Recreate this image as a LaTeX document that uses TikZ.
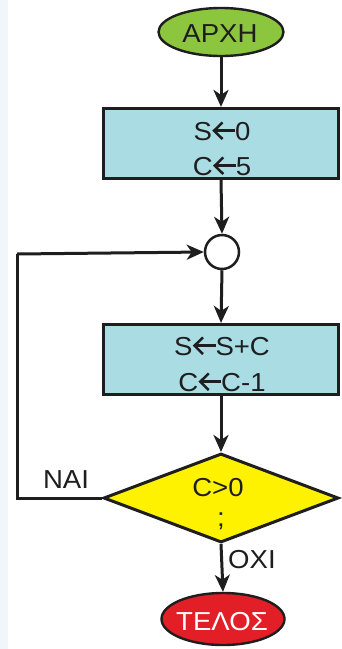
\documentclass[tikz,border=0pt]{standalone}
\usepackage{fontspec}
\setmainfont[FakeStretch=1.06]{Liberation Sans}
\usetikzlibrary{shapes.geometric,arrows.meta}
\definecolor{startgreen}{HTML}{8CC63F}
\definecolor{procblue}{HTML}{A9DCE3}
\definecolor{decyellow}{HTML}{FFF200}
\definecolor{endred}{HTML}{E21F26}
\definecolor{stripbg}{HTML}{F1F6FA}
\definecolor{ink}{HTML}{1E1E1E}
\newcommand{\lar}{\tikz[baseline=0pt,x=1pt,y=1pt]{%
  \path[use as bounding box] (0,0) rectangle (23,18);
  \draw[line width=2.5pt,ink,line cap=butt] (2.5,9.3) -- (23,9.3);
  \draw[line width=2.5pt,ink,line cap=butt,line join=miter] (10.5,1) -- (2,9.3) -- (10.5,17.6);}}
\begin{document}
\begin{tikzpicture}[x=1pt,y=-1pt,
  font=\fontsize{26}{35}\selectfont,
  text=ink,
  terminal/.style={ellipse,draw=ink,line width=2.4pt,minimum width=125pt,minimum height=48pt,inner sep=0pt},
  procbox/.style={rectangle,draw=ink,line width=3.2pt,fill=procblue,minimum width=235pt,minimum height=70pt,inner sep=0pt},
  decbox/.style={diamond,draw=ink,line width=3pt,fill=decyellow,minimum width=235pt,minimum height=89pt,inner sep=0pt,aspect=2.64},
  joincirc/.style={circle,draw=ink,line width=2.5pt,fill=white,minimum size=34pt,inner sep=0pt},
  lbl/.style={inner sep=0pt},
  flow/.style={draw=ink,line width=3pt,-{Stealth[length=17pt,width=15pt,inset=5pt]}},
  plain/.style={draw=ink,line width=3pt}
]
\useasboundingbox (0,0) rectangle (341,649);
\fill[white] (0,0) rectangle (341,649);
\fill[stripbg] (0,0) rectangle (8,649);

\node[terminal,fill=startgreen] (start) at (221,32) {};
\node[lbl,anchor=base] at (220,42) {ΑΡΧΗ};
\node[procbox] (init) at (221,143.5) {};
\node[lbl,anchor=base] at (222,140) {S\lar0};
\node[lbl,anchor=base] at (222,175) {C\lar5};
\node[joincirc] (join) at (222,252) {};
\node[procbox] (body) at (221,359.5) {};
\node[lbl,anchor=base] at (222,355) {S\lar S+C};
\node[lbl,anchor=base] at (222,391) {C\lar C-1};
\node[decbox] (test) at (221,498) {};
\node[lbl,anchor=base] at (218,496) {C>0};
\node[lbl,anchor=base] at (221,526) {;};
\node[terminal,fill=endred,minimum width=123pt,minimum height=52pt] (stop) at (223,619) {};
\node[lbl,anchor=base,text=white] at (222,630) {ΤΕΛΟΣ};

\coordinate (lb) at (17,498);
\coordinate (lt) at (17,254);

\draw[flow] (start.south) -- (init.north);
\draw[flow] (init.south) -- (join.north);
\draw[flow] (join.south) -- (body.north);
\draw[flow] (body.south) -- (test.north);
\draw[flow] (test.south) -- (stop.north);
\draw[plain] (test.west) -- (lb) -- (lt);
\draw[flow] (lt) -- (join.west);

\node[lbl,anchor=base] at (66,488) {ΝΑΙ};
\node[lbl,anchor=base west] at (228,568) {ΟΧΙ};
\end{tikzpicture}
\end{document}
